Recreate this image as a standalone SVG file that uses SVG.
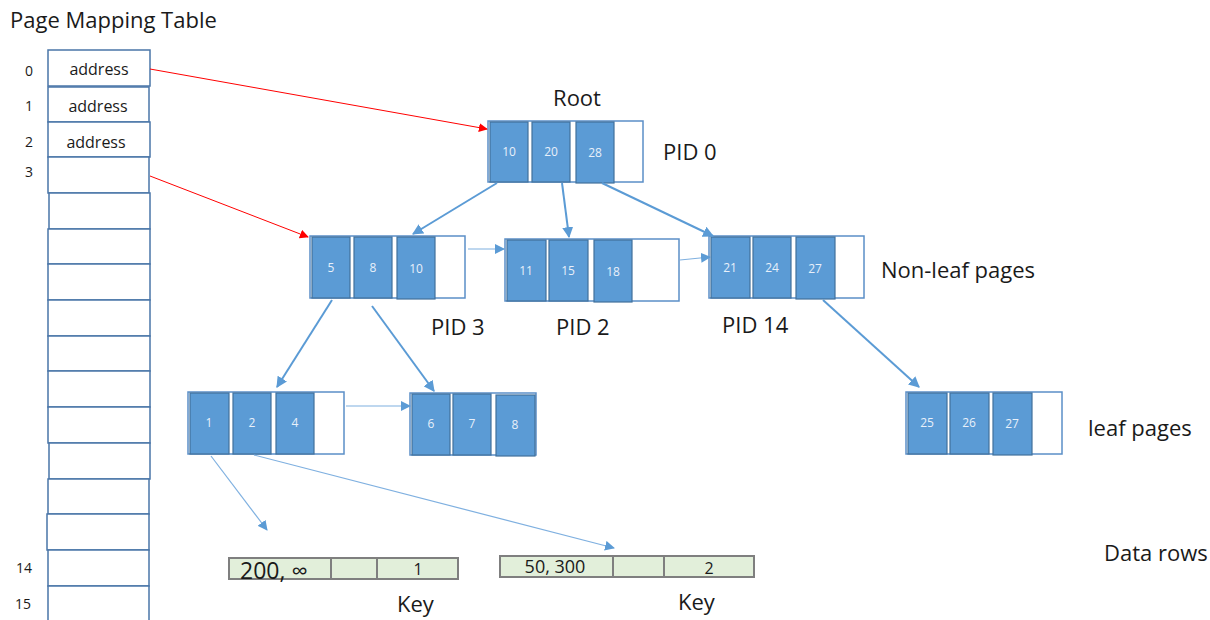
<svg xmlns="http://www.w3.org/2000/svg" width="1210" height="620" viewBox="0 0 1210 620">
<style>
text{font-family:"Open Sans","Noto Sans","Liberation Sans",sans-serif;fill:#1a1a1a}
.t{font-size:16px}
.lbl{font-size:22px}
.idx{font-size:14px}
.row{fill:#fff;stroke:#4a76a8;stroke-width:1.5}
.outer{fill:#fff;stroke:#5b8fc7;stroke-width:1.5}
.cell{fill:#5b9bd5;stroke:#41719c;stroke-width:1.2}
.ct{font-size:12px;fill:#e8f0fa;text-anchor:middle}
.dr{fill:#e2efda;stroke:#7f7f7f;stroke-width:2}
.red{stroke:#ff0000;stroke-width:1;fill:none}
.blue{stroke:#5b9bd5;stroke-width:2;fill:none}
.thin{stroke:#7fb0e0;stroke-width:1.2;fill:none}
</style>
<defs>
<marker id="ar" viewBox="0 0 10 10" refX="9" refY="5" markerWidth="9" markerHeight="9" markerUnits="userSpaceOnUse" orient="auto"><path d="M0,0 L10,5 L0,10 z" fill="#ff0000"/></marker>
<marker id="ab" viewBox="0 0 10 10" refX="9" refY="5" markerWidth="11" markerHeight="11" markerUnits="userSpaceOnUse" orient="auto"><path d="M0,0 L10,5 L0,10 z" fill="#5b9bd5"/></marker>
<marker id="at" viewBox="0 0 10 10" refX="9" refY="5" markerWidth="10" markerHeight="10" markerUnits="userSpaceOnUse" orient="auto"><path d="M0,0 L10,5 L0,10 z" fill="#5b9bd5"/></marker>
</defs>

<g id="title"><text class="lbl" x="10" y="28">Page Mapping Table</text></g>

<g id="mapping-table">
<rect class="row" x="48" y="50" width="102" height="36"/>
<rect class="row" x="48" y="87" width="101" height="35"/>
<rect class="row" x="48" y="122" width="102" height="35"/>
<rect class="row" x="48" y="157" width="101" height="36"/>
<rect class="row" x="49" y="193" width="101" height="36"/>
<rect class="row" x="48" y="229" width="102" height="35"/>
<rect class="row" x="48" y="264" width="102" height="36"/>
<rect class="row" x="48" y="300" width="102" height="36"/>
<rect class="row" x="48" y="336" width="102" height="35"/>
<rect class="row" x="48" y="371" width="102" height="36"/>
<rect class="row" x="48" y="407" width="102" height="36"/>
<rect class="row" x="49" y="443" width="101" height="36"/>
<rect class="row" x="48" y="479" width="101" height="35"/>
<rect class="row" x="47" y="514" width="102" height="36"/>
<rect class="row" x="48" y="550" width="101" height="36"/>
<rect class="row" x="48" y="586" width="101" height="36"/>
<text class="t" x="99" y="75" text-anchor="middle">address</text>
<text class="t" x="98" y="112" text-anchor="middle">address</text>
<text class="t" x="96" y="148" text-anchor="middle">address</text>
<text class="idx" x="29" y="76" text-anchor="middle">0</text>
<text class="idx" x="29" y="111" text-anchor="middle">1</text>
<text class="idx" x="29" y="147" text-anchor="middle">2</text>
<text class="idx" x="29" y="177" text-anchor="middle">3</text>
<text class="idx" x="24" y="573" text-anchor="middle">14</text>
<text class="idx" x="23" y="609" text-anchor="middle">15</text>
</g>

<g id="root">
<rect class="outer" x="488" y="121" width="155" height="61"/>
<rect class="cell" x="490" y="122" width="38" height="60"/>
<rect class="cell" x="532" y="122" width="38" height="60"/>
<rect class="cell" x="576" y="122" width="38" height="61"/>
<text class="ct" x="509" y="156">10</text>
<text class="ct" x="551" y="156">20</text>
<text class="ct" x="595" y="157">28</text>
<text class="lbl" x="577" y="106" text-anchor="middle">Root</text>
<text class="lbl" x="663" y="160">PID 0</text>
</g>

<g id="pid3">
<rect class="outer" x="310" y="236" width="155" height="62"/>
<rect class="cell" x="312" y="237" width="38" height="61"/>
<rect class="cell" x="354" y="237" width="38" height="61"/>
<rect class="cell" x="397" y="237" width="38" height="62"/>
<text class="ct" x="331" y="272">5</text>
<text class="ct" x="373" y="272">8</text>
<text class="ct" x="416" y="273">10</text>
<text class="lbl" x="431" y="335">PID 3</text>
</g>

<g id="pid2">
<rect class="outer" x="505" y="239" width="174" height="62"/>
<rect class="cell" x="507" y="240" width="39" height="61"/>
<rect class="cell" x="549" y="240" width="39" height="61"/>
<rect class="cell" x="594" y="240" width="38" height="62"/>
<text class="ct" x="526" y="275">11</text>
<text class="ct" x="568" y="275">15</text>
<text class="ct" x="613" y="276">18</text>
<text class="lbl" x="556" y="335">PID 2</text>
</g>

<g id="pid14">
<rect class="outer" x="709" y="236" width="155" height="62"/>
<rect class="cell" x="711" y="237" width="39" height="61"/>
<rect class="cell" x="753" y="237" width="38" height="61"/>
<rect class="cell" x="796" y="237" width="39" height="62"/>
<text class="ct" x="730" y="272">21</text>
<text class="ct" x="772" y="272">24</text>
<text class="ct" x="815" y="273">27</text>
<text class="lbl" x="722" y="333">PID 14</text>
<text class="lbl" x="881" y="278">Non-leaf pages</text>
</g>

<g id="leaf1">
<rect class="outer" x="188" y="392" width="156" height="62"/>
<rect class="cell" x="190" y="393" width="39" height="61"/>
<rect class="cell" x="233" y="393" width="38" height="61"/>
<rect class="cell" x="276" y="393" width="38" height="61"/>
<text class="ct" x="209" y="427">1</text>
<text class="ct" x="252" y="427">2</text>
<text class="ct" x="295" y="427">4</text>
</g>

<g id="leaf6">
<rect class="outer" x="410" y="393" width="126" height="62"/>
<rect class="cell" x="412" y="394" width="38" height="61"/>
<rect class="cell" x="453" y="394" width="38" height="61"/>
<rect class="cell" x="496" y="395" width="39" height="61"/>
<text class="ct" x="431" y="428">6</text>
<text class="ct" x="472" y="428">7</text>
<text class="ct" x="515" y="429">8</text>
</g>

<g id="leaf25">
<rect class="outer" x="906" y="392" width="156" height="62"/>
<rect class="cell" x="908" y="393" width="39" height="61"/>
<rect class="cell" x="950" y="393" width="39" height="61"/>
<rect class="cell" x="993" y="393" width="39" height="62"/>
<text class="ct" x="927" y="427">25</text>
<text class="ct" x="969" y="427">26</text>
<text class="ct" x="1012" y="428">27</text>
<text class="lbl" x="1088" y="436">leaf pages</text>
</g>

<g id="datarow1">
<rect class="dr" x="229" y="558" width="229" height="21"/>
<line class="dr" x1="331" y1="558" x2="331" y2="579"/>
<line class="dr" x1="377" y1="558" x2="377" y2="579"/>
<text x="240" y="579" style="font-size:23px">200, ∞</text>
<text x="418" y="575" class="t" text-anchor="middle">1</text>
<text class="lbl" x="397" y="612">Key</text>
</g>

<g id="datarow2">
<rect class="dr" x="500" y="556" width="254" height="21"/>
<line class="dr" x1="613" y1="556" x2="613" y2="577"/>
<line class="dr" x1="664" y1="556" x2="664" y2="577"/>
<text x="555" y="573" style="font-size:18px" text-anchor="middle">50, 300</text>
<text x="709" y="574" class="t" text-anchor="middle">2</text>
<text class="lbl" x="678" y="610">Key</text>
<text class="lbl" x="1104" y="561">Data rows</text>
</g>

<g id="connectors">
<line class="red" x1="150" y1="69" x2="487" y2="129" marker-end="url(#ar)"/>
<line class="red" x1="150" y1="176" x2="308" y2="237" marker-end="url(#ar)"/>
<line class="blue" x1="497" y1="183" x2="413" y2="234" marker-end="url(#ab)"/>
<line class="blue" x1="562" y1="183" x2="569" y2="237" marker-end="url(#ab)"/>
<line class="blue" x1="602" y1="183" x2="713" y2="236" marker-end="url(#ab)"/>
<line class="thin" x1="468" y1="249" x2="504" y2="249" marker-end="url(#at)"/>
<line class="thin" x1="680" y1="260" x2="710" y2="257" marker-end="url(#at)"/>
<line class="blue" x1="332" y1="300" x2="277" y2="387" marker-end="url(#ab)"/>
<line class="blue" x1="372" y1="306" x2="434" y2="391" marker-end="url(#ab)"/>
<line class="thin" x1="346" y1="406" x2="410" y2="406" marker-end="url(#at)"/>
<line class="blue" x1="823" y1="300" x2="919" y2="387" marker-end="url(#ab)"/>
<line class="thin" x1="211" y1="456" x2="267" y2="530" marker-end="url(#at)"/>
<line class="thin" x1="254" y1="455" x2="614" y2="548" marker-end="url(#at)"/>
</g>
</svg>
